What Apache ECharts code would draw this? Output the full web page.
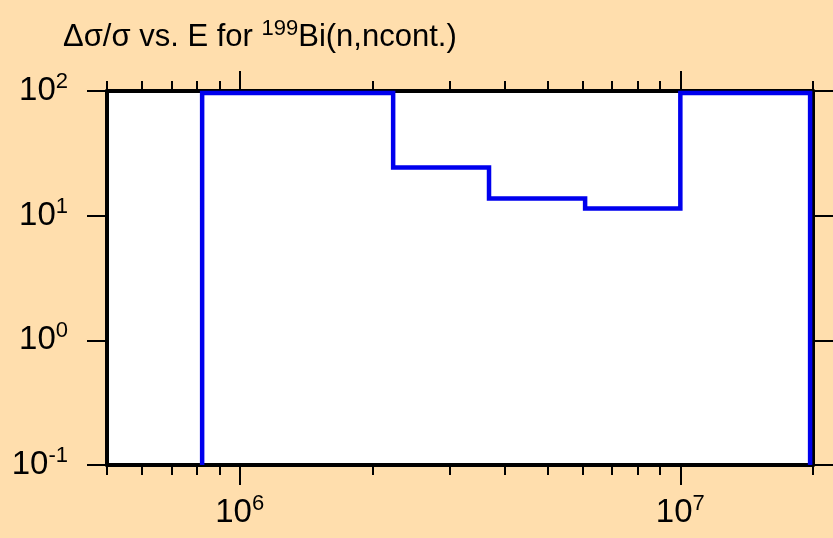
<!DOCTYPE html>
<html><head><meta charset="utf-8">
<script src="https://cdn.jsdelivr.net/npm/echarts@6/dist/echarts.min.js"></script>
<style>html,body{margin:0;padding:0;background:#FFDEAD}#c{width:833px;height:538px}</style>
</head><body><div id="c"></div>
<script>
// ---- data ----
const binEdges = [8.22e5, 2.23e6, 3.68e6, 6.08e6, 1.0e7, 1.97e7];
const relUncertainty = [96.5, 24.3, 13.7, 11.4, 96.5];
const floorValue = 0.1;
const xRange = [5e5, 2e7];
const yRange = [0.1, 100];
const xMajorTicks = [1e6, 1e7];
const xMinorTicks = [5e5, 6e5, 7e5, 8e5, 9e5, 2e6, 3e6, 4e6, 5e6, 6e6, 7e6, 8e6, 9e6, 2e7];
const yMajorTicks = [0.1, 1, 10, 100];
const titleMain = 'Δσ/σ vs. E for ';
const titleSup = '199';
const titleTail = 'Bi(n,ncont.)';

const FONT = 'Liberation Sans, Arial, sans-serif';
const pts = [[binEdges[0], floorValue]];
for (let i = 0; i < relUncertainty.length; i++) {
  pts.push([binEdges[i], relUncertainty[i]]);
  pts.push([binEdges[i + 1], relUncertainty[i]]);
}
pts.push([binEdges[binEdges.length - 1], floorValue]);

function supLabel(v) {
  const e = Math.round(Math.log10(v));
  return '{b|10}{s|' + e + '}';
}
const labelRich = {
  b: { fontSize: 33, fontFamily: FONT, color: '#000' },
  s: { fontSize: 22, fontFamily: FONT, color: '#000', padding: [0, 0, 18, 0] }
};
const tickStyle = { color: '#000', width: 2 };
function xAx(pos, major, showLine, showLabel) {
  return {
    type: 'log', logBase: 10, min: xRange[0], max: xRange[1], position: pos, offset: 0,
    splitLine: { show: false },
    axisLine: { show: showLine, onZero: false, lineStyle: { color: '#000', width: 4 } },
    axisTick: { show: true, inside: false, customValues: major ? xMajorTicks : xMinorTicks,
      length: major ? 20 : 10, lineStyle: tickStyle },
    axisLabel: { show: showLabel, customValues: xMajorTicks, formatter: supLabel, rich: labelRich, margin: 28 },
    z: 1
  };
}
function yAx(pos, showLabel) {
  return {
    type: 'log', logBase: 10, min: yRange[0], max: yRange[1], position: pos, offset: 0,
    splitLine: { show: false },
    axisLine: { show: true, onZero: false, lineStyle: { color: '#000', width: 4 } },
    axisTick: { show: true, inside: false, customValues: yMajorTicks, length: 20, lineStyle: tickStyle },
    axisLabel: { show: showLabel, customValues: yMajorTicks, formatter: supLabel, rich: labelRich, margin: 39 },
    z: 1
  };
}

const chart = echarts.init(document.getElementById('c'), null, { renderer: 'canvas' });
chart.setOption({
  backgroundColor: '#FFDEAD',
  animation: false,
  title: {
    text: '{m|' + titleMain + '}{s|' + titleSup + '}{m|' + titleTail + '}',
    left: 58, top: 13,
    textStyle: {
      fontWeight: 'normal', fontSize: 31, fontFamily: FONT, color: '#000',
      rich: {
        m: { fontSize: 31, fontFamily: FONT, color: '#000', fontWeight: 'normal' },
        s: { fontSize: 22, fontFamily: FONT, color: '#000', fontWeight: 'normal', padding: [0, 0, 17, 0] }
      }
    }
  },
  grid: { left: 107, right: 20, top: 91, bottom: 73, show: true, backgroundColor: '#fff', borderWidth: 0 },
  xAxis: [xAx('bottom', true, true, true), xAx('bottom', false, false, false),
          xAx('top', true, true, false), xAx('top', false, false, false)],
  yAxis: [yAx('left', true), yAx('right', false)],
  series: [{
    type: 'line', data: pts, xAxisIndex: 0, yAxisIndex: 0,
    showSymbol: false, symbol: 'none', clip: true,
    lineStyle: { color: '#0000ee', width: 4.5, join: 'miter', cap: 'butt' },
    z: 3
  }]
});
</script></body></html>
